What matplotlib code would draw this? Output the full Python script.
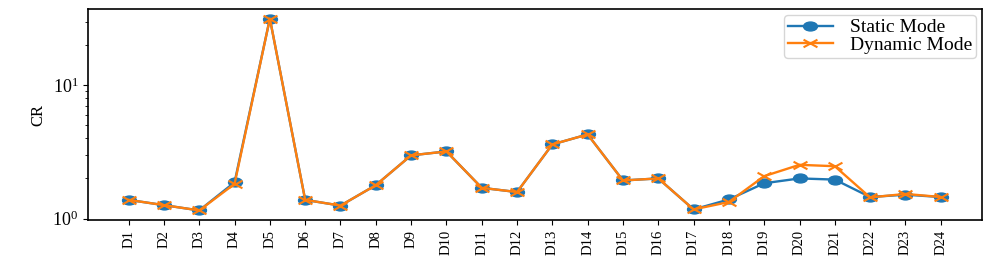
import numpy as np
import matplotlib
matplotlib.use('Agg')
import matplotlib.pyplot as plt
from matplotlib.path import Path
from matplotlib.transforms import Affine2D

plt.rcParams['font.family'] = ['Liberation Serif', 'DejaVu Serif']
plt.rcParams['mathtext.fontset'] = 'stix'

datasets = ['D%d' % i for i in range(1, 25)]
static_cr = [1.38, 1.26, 1.15, 1.87, 31.7, 1.38, 1.25, 1.78, 2.98, 3.19, 1.70, 1.58,
             3.60, 4.28, 1.93, 2.00, 1.17, 1.39, 1.84, 2.00, 1.96, 1.45, 1.51, 1.45]
dynamic_cr = [1.38, 1.26, 1.15, 1.82, 31.7, 1.38, 1.25, 1.78, 2.98, 3.19, 1.70, 1.58,
              3.60, 4.28, 1.93, 2.00, 1.17, 1.33, 2.08, 2.53, 2.47, 1.44, 1.53, 1.45]

# the reference looks stretched sideways, so use wide markers
ellipse = Path.unit_circle().transformed(Affine2D().scale(1.0, 0.64))
wide_x = Path([(-1, -0.55), (1, 0.55), (-1, 0.55), (1, -0.55)],
              [Path.MOVETO, Path.LINETO, Path.MOVETO, Path.LINETO])

fig = plt.figure(figsize=(9.97, 2.61), dpi=100)
ax = fig.add_axes([0.0883, 0.157, 0.8967, 0.8085])

x = np.arange(len(datasets))
ax.plot(x, static_cr, '-', marker=ellipse, markersize=10, linewidth=1.7, label='Static Mode')
ax.plot(x, dynamic_cr, '-', marker=wide_x, markersize=10, markeredgewidth=1.5,
        linewidth=1.7, label='Dynamic Mode')
ax.set_yscale('log')
ax.set_xlim(-1.15, 24.17)
ax.set_xticks(x)
ax.set_xticklabels(datasets, rotation=90, fontsize=10.5)
ax.tick_params(axis='y', labelsize=13)
ax.set_ylabel('CR', fontsize=12)
for s in ax.spines.values():
    s.set_linewidth(1.2)
ax.legend(loc='upper right', fontsize=14, labelspacing=0.0, borderpad=0.2,
          handlelength=2.3, handletextpad=0.9, borderaxespad=0.3)

fig.savefig('out.png', dpi=100)
